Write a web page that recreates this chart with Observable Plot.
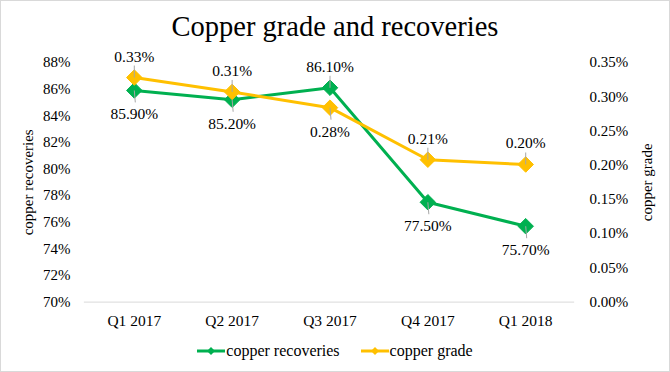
<!DOCTYPE html>
<html>
<head>
<meta charset="utf-8">
<script src="https://cdn.jsdelivr.net/npm/d3@7"></script>
<script src="https://cdn.jsdelivr.net/npm/@observablehq/plot@0.6"></script>
<style>
  html, body { margin: 0; padding: 0; background: #fff; }
  #wrap { position: relative; width: 670px; height: 372px; box-sizing: border-box; border: 1px solid #d9d9d9; font-family: "Liberation Serif", "Times New Roman", serif; color: #000; overflow: hidden; }
  #title { position: absolute; left: 0; top: 10px; width: 668px; text-align: center; font-size: 28.5px; line-height: 32px; }
  #chart { position: absolute; left: -1px; top: 47px; }
  #chart svg, #chart svg text { font-family: "Liberation Serif", "Times New Roman", serif !important; }
  #legend { position: absolute; left: 0; top: 341px; width: 668px; display: flex; justify-content: center; align-items: center; font-size: 16px; line-height: 18px; }
  .item { display: flex; align-items: center; margin: 0 10.5px; }
  .item svg { margin-right: 1px; }
</style>
</head>
<body>
<div id="wrap">
  <div id="title">Copper grade and recoveries</div>
  <div id="chart"></div>
  <div id="legend"></div>
</div>
<script>
const quarters = ["Q1 2017", "Q2 2017", "Q3 2017", "Q4 2017", "Q1 2018"];
const recoveries = [85.9, 85.2, 86.1, 77.5, 75.7];      // %
const grade = [0.328, 0.307, 0.284, 0.208, 0.201];       // %
const leftTicks = [70, 72, 74, 76, 78, 80, 82, 84, 86, 88];
const rightTicks = [0, 0.05, 0.10, 0.15, 0.20, 0.25, 0.30, 0.35];
const seriesNames = ["copper recoveries", "copper grade"];
const colors = ["#00b050", "#ffc000"];

// map grade (right axis) onto the left axis domain
const L0 = 70, L1 = 88, R0 = 0, R1 = 0.35;
const toLeft = g => L0 + (g - R0) / (R1 - R0) * (L1 - L0);
const fromLeft = v => R0 + (v - L0) / (L1 - L0) * (R1 - R0);

const recRows = quarters.map((q, i) => ({q, v: recoveries[i], label: recoveries[i].toFixed(2) + "%", s: 0}));
const grdRows = quarters.map((q, i) => ({q, v: toLeft(grade[i]), label: grade[i].toFixed(2) + "%", s: 1}));
// upper series at each quarter gets its label above, lower one below
recRows.forEach((r, i) => { const up = r.v > grdRows[i].v; r.above = up; grdRows[i].above = !up; });
const all = recRows.concat(grdRows);
const above = all.filter(d => d.above);
const below = all.filter(d => !d.above);

const leaderUp = {draw(ctx) { ctx.moveTo(0, 0); ctx.lineTo(0, -12); }};
const leaderDown = {draw(ctx) { ctx.moveTo(0, 0); ctx.lineTo(1, 12); }};

const font = "Liberation Serif";
const fs = 15.5;
const chart = Plot.plot({
  width: 670,
  height: 288,
  marginLeft: 84,
  marginRight: 95,
  marginTop: 14,
  marginBottom: 34,
  style: {fontFamily: font, fontSize: fs + "px", color: "#000", background: "transparent", overflow: "visible"},
  x: {type: "point", domain: quarters, padding: 0.5, label: null},
  y: {domain: [L0, L1], label: null},
  marks: [
    Plot.axisY(leftTicks, {anchor: "left", tickSize: 0, tickPadding: 14, tickFormat: d => d + "%", label: "copper recoveries", labelArrow: "none", labelAnchor: "center", labelOffset: 62, fontSize: 15, fontFamily: font}),
    Plot.axisY(rightTicks.map(toLeft), {anchor: "right", tickSize: 0, tickPadding: 15, tickFormat: v => fromLeft(v).toFixed(2) + "%", label: "copper grade", labelArrow: "none", labelAnchor: "center", labelOffset: 77, fontSize: 15, fontFamily: font}),
    Plot.axisX({tickSize: 0, tickPadding: 13, label: null, fontSize: fs, fontFamily: font}),
    Plot.ruleY([L0], {stroke: "#d9d9d9", strokeWidth: 1}),
    Plot.line(recRows, {x: "q", y: "v", stroke: colors[0], strokeWidth: 3}),
    Plot.line(grdRows, {x: "q", y: "v", stroke: colors[1], strokeWidth: 3}),
    Plot.dot(recRows, {x: "q", y: "v", symbol: "diamond2", r: 7, fill: colors[0], stroke: colors[0], strokeWidth: 1}),
    Plot.dot(grdRows, {x: "q", y: "v", symbol: "diamond2", r: 7, fill: colors[1], stroke: colors[1], strokeWidth: 1}),
    Plot.dot(above, {x: "q", y: "v", symbol: leaderUp, r: 5, stroke: "#a6a6a6", fill: "none", strokeWidth: 1}),
    Plot.dot(below, {x: "q", y: "v", symbol: leaderDown, r: 5, stroke: "#a6a6a6", fill: "none", strokeWidth: 1}),
    Plot.text(above, {x: "q", y: "v", text: "label", dy: -21, fontSize: fs, fontFamily: font, fill: "#000"}),
    Plot.text(below, {x: "q", y: "v", text: "label", dy: 24, fontSize: fs, fontFamily: font, fill: "#000"})
  ]
});
document.getElementById("chart").appendChild(chart);

const legend = document.getElementById("legend");
seriesNames.forEach((name, i) => {
  const item = document.createElement("div");
  item.className = "item";
  item.innerHTML = `<svg width="28" height="10"><line x1="0" y1="5" x2="28" y2="5" stroke="${colors[i]}" stroke-width="3"/><path d="M14 1 L18 5 L14 9 L10 5 Z" fill="${colors[i]}"/></svg><span>${name}</span>`;
  legend.appendChild(item);
});
</script>
</body>
</html>
